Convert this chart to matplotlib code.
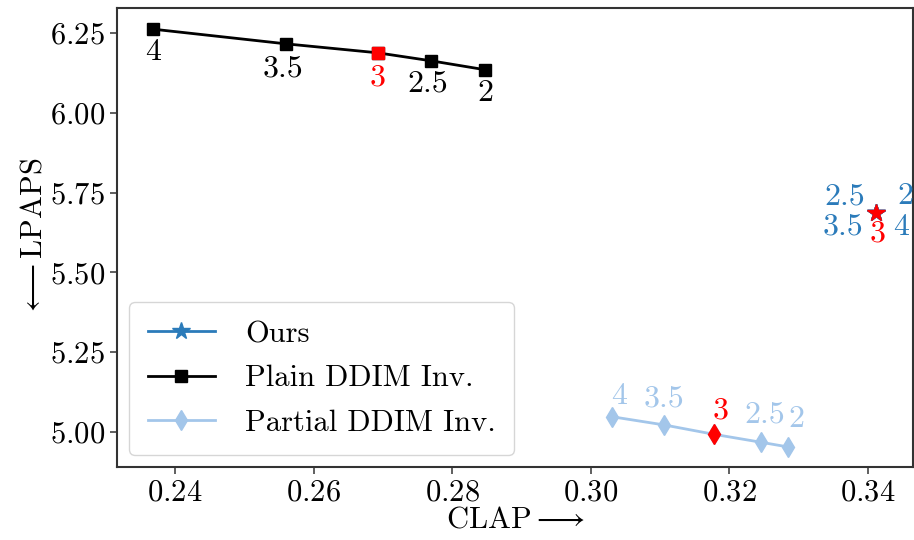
import matplotlib
matplotlib.use('Agg')
import matplotlib.pyplot as plt

plt.rcParams['font.family'] = 'serif'
plt.rcParams['font.serif'] = ['cmr10']
plt.rcParams['mathtext.fontset'] = 'cm'
plt.rcParams['axes.formatter.use_mathtext'] = True

# guidance scales and metrics
scales = ['4', '3.5', '3', '2.5', '2']

ours_clap = [0.3412, 0.3412, 0.3412, 0.3412, 0.3412]
ours_lpaps = [5.685, 5.685, 5.685, 5.685, 5.685]

plain_clap = [0.2368, 0.2560, 0.2692, 0.2769, 0.2847]
plain_lpaps = [6.262, 6.216, 6.188, 6.163, 6.135]

partial_clap = [0.3030, 0.3106, 0.3177, 0.3245, 0.3285]
partial_lpaps = [5.048, 5.022, 4.993, 4.968, 4.953]

c_ours = '#2b7bba'
c_plain = 'black'
c_partial = '#a3c6ea'
fs = 22
fs_ann = 23

fig = plt.figure(figsize=(9.14, 5.4), dpi=100)
ax = fig.add_axes([0.128, 0.135, 0.871, 0.85])

ax.plot(ours_clap, ours_lpaps, color=c_ours, marker='*', markersize=13, lw=2, label='Ours')
ax.plot(plain_clap, plain_lpaps, color=c_plain, marker='s', markersize=8, lw=2, label='Plain DDIM Inv.')
ax.plot(partial_clap, partial_lpaps, color=c_partial, marker='d', markersize=10, lw=2, label='Partial DDIM Inv.')

# highlight scale 3
i3 = scales.index('3')
ax.plot(ours_clap[i3], ours_lpaps[i3], marker='*', color='red', markersize=13, zorder=5)
ax.plot(plain_clap[i3], plain_lpaps[i3], marker='s', color='red', markersize=8, zorder=5)
ax.plot(partial_clap[i3], partial_lpaps[i3], marker='d', color='red', markersize=10, zorder=5)

# scale labels
plain_off = {'4': (0, -7), '3.5': (-2, -8), '3': (0, -8), '2.5': (-2, -7), '2': (0, -7)}
for s, x, y in zip(scales, plain_clap, plain_lpaps):
    col = 'red' if s == '3' else c_plain
    ax.annotate(s, (x, y), xytext=plain_off[s], textcoords='offset points',
                ha='center', va='top', fontsize=fs_ann, color=col)

partial_off = {'4': (5, 5), '3.5': (0, 9), '3': (5, 7), '2.5': (3, 10), '2': (6, 10)}
for s, x, y in zip(scales, partial_clap, partial_lpaps):
    col = 'red' if s == '3' else c_partial
    ax.annotate(s, (x, y), xytext=partial_off[s], textcoords='offset points',
                ha='center', va='bottom', fontsize=fs_ann, color=col)

ours_off = {'4': (18, -10), '3.5': (-24, -10), '3': (1, -15), '2.5': (-23, 12), '2': (21, 12)}
for s, x, y in zip(scales, ours_clap, ours_lpaps):
    col = 'red' if s == '3' else c_ours
    ax.annotate(s, (x, y), xytext=ours_off[s], textcoords='offset points',
                ha='center', va='center', fontsize=fs_ann, color=col)

ax.set_xlim(0.2316, 0.3465)
ax.set_ylim(4.890, 6.328)
ax.set_xticks([0.24, 0.26, 0.28, 0.30, 0.32, 0.34])
ax.set_yticks([5.00, 5.25, 5.50, 5.75, 6.00, 6.25])
ax.tick_params(labelsize=fs, color='#444444', width=1.2, length=5)
for sp in ax.spines.values():
    sp.set_color('#333333')
    sp.set_linewidth(1.5)

ax.set_xlabel(r'CLAP$\longrightarrow$', fontsize=fs, labelpad=0)
ax.set_ylabel(r'$\longleftarrow$LPAPS', fontsize=fs, labelpad=2)

ax.legend(loc='lower left', fontsize=fs, borderaxespad=0.4, borderpad=0.6,
          handlelength=2.2, handletextpad=1.0, labelspacing=0.55)

fig.savefig('out.png', dpi=100)
